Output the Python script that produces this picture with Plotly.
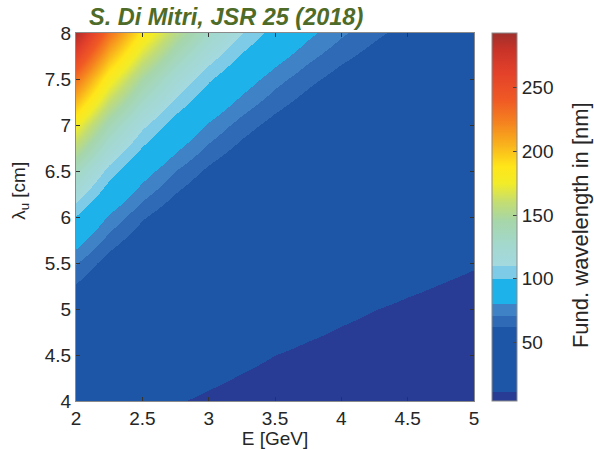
import plotly.graph_objects as go

# Beam energy (GeV) and undulator period (cm) sampling grid
energy_gev = [2.0, 2.25, 2.5, 2.75, 3.0, 3.25, 3.5, 3.75, 4.0, 4.25, 4.5, 4.75, 5.0]
period_cm = [4.0, 4.5, 5.0, 5.5, 6.0, 6.5, 7.0, 7.5, 8.0]

# Fundamental FEL wavelength (nm); one row per undulator period, one column per energy
wavelength_nm = [
    [21.8, 17.2, 13.9, 11.5, 9.7, 8.2, 7.1, 6.2, 5.4, 4.8, 4.3, 3.9, 3.5],
    [33.8, 26.7, 21.6, 17.9, 15.0, 12.8, 11.0, 9.6, 8.5, 7.5, 6.7, 6.0, 5.4],
    [50.1, 39.6, 32.1, 26.5, 22.3, 19.0, 16.4, 14.3, 12.5, 11.1, 9.9, 8.9, 8.0],
    [71.6, 56.5, 45.8, 37.8, 31.8, 27.1, 23.4, 20.4, 17.9, 15.8, 14.1, 12.7, 11.5],
    [99.1, 78.3, 63.4, 52.4, 44.0, 37.5, 32.4, 28.2, 24.8, 21.9, 19.6, 17.6, 15.9],
    [133.7, 105.6, 85.6, 70.7, 59.4, 50.6, 43.7, 38.0, 33.4, 29.6, 26.4, 23.7, 21.4],
    [176.4, 139.3, 112.9, 93.3, 78.4, 66.8, 57.6, 50.2, 44.1, 39.1, 34.8, 31.3, 28.2],
    [228.4, 180.4, 146.2, 120.8, 101.5, 86.5, 74.6, 65.0, 57.1, 50.6, 45.1, 40.5, 36.5],
    [290.5, 229.5, 185.9, 153.7, 129.1, 110.0, 94.9, 82.6, 72.6, 64.3, 57.4, 51.5, 46.5],
]

colorbar_ticks = [50, 100, 150, 200, 250]

Z_MIN, Z_MAX = 4.0, 293.0


def norm(v):
    return (v - Z_MIN) / (Z_MAX - Z_MIN)


# Stepped blues at the short-wavelength end, smooth ramp above
steps = [
    (11, "#283c95"),
    (62, "#1d55a7"),
    (71, "#2f6ab6"),
    (80, "#3f82c6"),
    (100, "#1db2ea"),
    (110, "#7ecbe8"),
]
ramp = [
    (110, "#a4d9e0"),
    (125, "#a3d8d0"),
    (145, "#a6d6aa"),
    (160, "#c3dd72"),
    (175, "#f2ec28"),
    (188, "#ffe619"),
    (205, "#f9b31c"),
    (222, "#f5841f"),
    (240, "#f05a24"),
    (262, "#e3412a"),
    (280, "#c83328"),
    (293, "#a0302c"),
]
colorscale = []
lo = Z_MIN
for hi, col in steps:
    colorscale.append([norm(lo), col])
    colorscale.append([norm(hi), col])
    lo = hi
for v, col in ramp:
    colorscale.append([norm(v), col])

font_family = "Liberation Sans, Arial, sans-serif"
text_color = "#262626"

fig = go.Figure(
    go.Heatmap(
        x=energy_gev,
        y=period_cm,
        z=wavelength_nm,
        zsmooth="best",
        zmin=Z_MIN,
        zmax=Z_MAX,
        colorscale=colorscale,
        colorbar=dict(
            x=1.045,
            xanchor="left",
            y=0.5,
            yanchor="middle",
            len=1.0,
            lenmode="fraction",
            thickness=25,
            xpad=0,
            ypad=0,
            outlinecolor="#8a8a8a",
            outlinewidth=1,
            tickvals=colorbar_ticks,
            ticks="inside",
            ticklen=4,
            tickcolor="#444",
            tickfont=dict(size=19, color=text_color, family=font_family),
        ),
    )
)

axis_common = dict(
    ticks="inside",
    ticklen=4,
    tickcolor="#333",
    showline=True,
    linecolor="#8a8a8a",
    linewidth=1,
    mirror="ticks",
    showgrid=False,
    zeroline=False,
    tickfont=dict(size=19, color=text_color, family=font_family),
)

fig.update_xaxes(
    range=[2, 5],
    dtick=0.5,
    title=dict(text="E [GeV]", font=dict(size=19, color=text_color, family=font_family), standoff=2),
    **axis_common,
)
fig.update_yaxes(range=[4, 8], dtick=0.5, **axis_common)

# y-axis label placed as free text
fig.add_annotation(
    text="λ<sub>u</sub> [cm]",
    xref="paper",
    yref="paper",
    x=-0.1407,
    y=0.571,
    xanchor="center",
    yanchor="middle",
    textangle=-90,
    showarrow=False,
    font=dict(size=19, color=text_color, family=font_family),
)

# colour-bar label
fig.add_annotation(
    text="Fund. wavelength in [nm]",
    xref="paper",
    yref="paper",
    x=1.2663,
    y=0.478,
    xanchor="center",
    yanchor="middle",
    textangle=-90,
    showarrow=False,
    font=dict(size=22, color=text_color, family=font_family),
)

fig.add_annotation(
    text="<b><i>S. Di Mitri, JSR 25 (2018)</i></b>",
    xref="paper",
    yref="paper",
    x=0.028,
    y=1.0435,
    xanchor="left",
    yanchor="middle",
    showarrow=False,
    font=dict(size=23.5, color="#4f6b28", family=font_family),
)

fig.update_layout(
    width=594,
    height=449,
    margin=dict(l=76, r=120, t=33, b=48, autoexpand=False),
    paper_bgcolor="white",
    plot_bgcolor="white",
    font=dict(family=font_family, color=text_color),
)

fig.write_html("out.html")
